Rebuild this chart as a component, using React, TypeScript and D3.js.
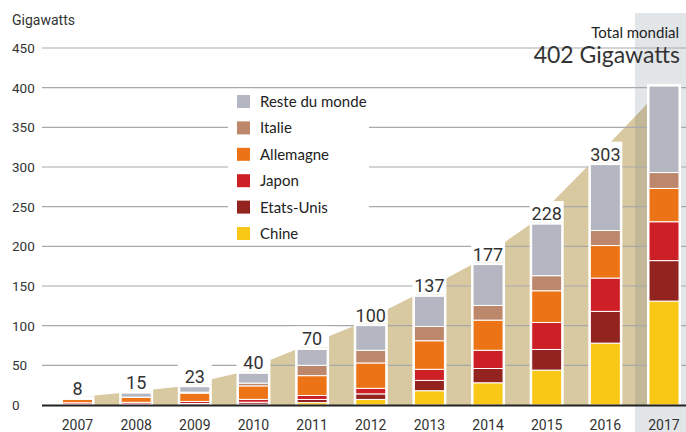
import * as d3 from 'd3';

const years = ['2007', '2008', '2009', '2010', '2011', '2012', '2013', '2014', '2015', '2016', '2017'];
const totals = [8, 15, 23, 40, 70, 100, 137, 177, 228, 303, 402];

// capacité installée par pays (GW)
const chine = [0.1, 0.1, 0.3, 1, 3, 7, 18, 28, 44, 78, 131];
const etatsUnis = [0.8, 1.2, 1.6, 2.5, 4, 7, 13, 18, 26, 40, 51];
const japon = [1.9, 2.1, 2.6, 3.6, 5, 7, 14, 23, 34, 42, 49];
const allemagne = [4.2, 6.1, 10.5, 17, 25, 32, 36, 38, 40, 41, 42];
const italie = [0.1, 0.4, 1.2, 3.5, 13, 16, 18, 18.5, 19, 19, 20];
const reste = [0.9, 5.1, 6.8, 12.4, 20, 31, 38, 51.5, 65, 83, 109];

const seriesNames = ['Chine', 'Etats-Unis', 'Japon', 'Allemagne', 'Italie', 'Reste du monde'];
const seriesColors = ['#f9c715', '#93231e', '#cd1f26', '#ec7316', '#bd876c', '#b4b7c2'];
const yTicks = [0, 50, 100, 150, 200, 250, 300, 350, 400, 450];

const W = 686;
const H = 432;

export default function App() {
  const x = d3.scalePoint<string>().domain(years).range([77.5, 664]);
  const y = d3.scaleLinear().domain([0, 450]).range([405, 48]);
  const color = d3.scaleOrdinal<string, string>().domain(seriesNames).range(seriesColors);

  const values = [chine, etatsUnis, japon, allemagne, italie, reste];
  const rows = years.map((yr, i) => {
    const r: any = { year: yr };
    seriesNames.forEach((s, k) => { r[s] = values[k][i]; });
    return r;
  });
  const stacked = d3.stack<any>().keys(seriesNames)(rows);

  const barW = 30;
  const last = years.length - 1;

  // fond beige : passe par le coin haut-gauche de chaque barre
  const areaPts: [number, number][] = years.map((yr, i) => [
    i === last ? x(yr)! : x(yr)! - barW / 2 - 1,
    totals[i],
  ]);
  const area = d3.area<[number, number]>()
    .x(d => d[0])
    .y0(y(0))
    .y1(d => y(d[1]));

  const font = 'Roboto, "Liberation Sans", sans-serif';
  const font2 = 'Lato, "Open Sans", sans-serif';

  const legendItems = seriesNames.slice().reverse();

  return (
    <svg width={W} height={H} style={{ position: 'absolute', left: 0, top: 0, background: '#fff' }}>
      <path d={area(areaPts) || ''} fill="#d9c9a1" />

      {/* bande 2017 */}
      <rect x={x('2017')! - 29} y={13} width={W - (x('2017')! - 29)} height={H - 13}
        fill="#2a3a55" fillOpacity={0.13} />

      {yTicks.map(t => (
        <g key={t}>
          {t > 0 && <line x1={42} x2={W} y1={y(t)} y2={y(t)} stroke="#a9a9a9" strokeWidth={1.2} />}
          <text x={12} y={y(t)} dy="0.36em" fontFamily={font} fontSize={13.5} fill="#333">{t}</text>
        </g>
      ))}
      <text x={12} y={25} fontFamily={font} fontSize={14} fill="#333">Gigawatts</text>

      {/* légende */}
      <rect x={228} y={89} width={141} height={156} fill="#fff" />
      {legendItems.map((s, i) => (
        <g key={s} transform={`translate(237, ${101.5 + i * 26.4})`}>
          <rect x={0} y={-6.5} width={13} height={13} fill={color(s)} />
          <text x={23} y={0} dy="0.36em" fontFamily={font2} fontSize={15} fill="#222">{s}</text>
        </g>
      ))}

      {/* barres */}
      {years.map((yr, i) => (
        <rect key={'bg' + yr} x={x(yr)! - barW / 2 - 2} y={y(totals[i]) - 2}
          width={barW + 4} height={y(0) - y(totals[i]) + 2} fill="#fff" />
      ))}
      {stacked.map(layer => (
        <g key={layer.key} fill={color(layer.key)}>
          {layer.map((d, i) => (
            <rect key={years[i]} x={x(years[i])! - barW / 2} y={y(d[1])}
              width={barW} height={Math.max(0, y(d[0]) - y(d[1]))}
              stroke="#fff" strokeWidth={1} />
          ))}
        </g>
      ))}

      {/* étiquettes des totaux (2017 : voir le titre) */}
      {years.slice(0, last).map((yr, i) => (
        <g key={'lab' + yr}>
          <rect x={x(yr)! - barW / 2 - 2} y={y(totals[i]) - 23} width={barW + 4} height={21} fill="#fff" />
          <text x={x(yr)} y={y(totals[i]) - 4} textAnchor="middle" fontFamily={font}
            fontSize={18} fill="#333">{totals[i]}</text>
        </g>
      ))}

      <line x1={42} x2={W} y1={y(0) + 0.5} y2={y(0) + 0.5} stroke="#222" strokeWidth={2} />

      {years.map(yr => (
        <text key={'x' + yr} x={x(yr)} y={430} textAnchor="middle" fontFamily={font}
          fontSize={14} fill="#333">{yr}</text>
      ))}

      <text x={679} y={38} textAnchor="end" fontFamily={font2} fontSize={15} fill="#222">Total mondial</text>
      <text x={680} y={63} textAnchor="end" fontFamily={font2} fontSize={23} fill="#333">402 Gigawatts</text>
    </svg>
  );
}
